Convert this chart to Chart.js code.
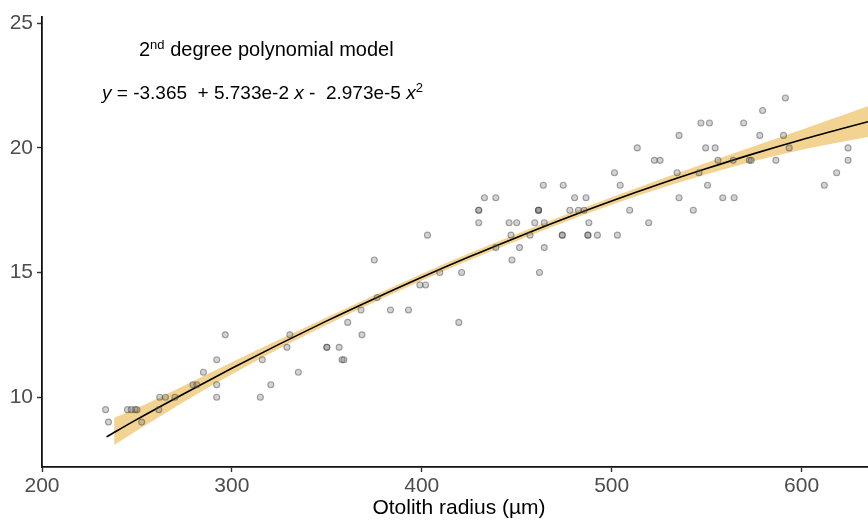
<!DOCTYPE html>
<html>
<head>
<meta charset="utf-8">
<script src="https://cdn.jsdelivr.net/npm/chart.js@4.4.0/dist/chart.umd.min.js"></script>
<style>
  body { margin: 0; background: #fff; }
  #wrap { width: 868px; height: 521px; }
</style>
</head>
<body>
<div id="wrap"><canvas id="chart" width="868" height="521"></canvas></div>
<script>
// observed points (otolith radius, length)
const obsX = [233.5, 235, 245, 247, 249, 250, 252.5, 261.5, 262, 265, 270, 279.5, 281.5, 285, 292, 292, 292, 296.5,
  315, 316, 320.5, 329, 330.5, 335, 350, 350, 356.5, 358, 359, 361, 368, 368.5, 375, 376.5, 383.5, 393,
  399, 402, 403, 409.5, 419.5, 421, 430, 430, 430, 433, 439, 439, 446, 447, 447.5, 450, 451.5, 457, 459.5,
  461.5, 461.5, 461.5, 462, 464, 464.5, 464.5, 474, 474, 474.5, 478, 480.5, 482.5, 485.5, 486.5, 487.5, 487.5,
  488, 492.5, 501.5, 503, 504.5, 509.5, 513.5, 519.5, 522.5, 525.5, 534.5, 535.5, 535.5, 543, 546, 547, 551.5,
  549.5, 550.5, 554.5, 556, 558.5, 564.5, 564, 569.5, 572.5, 573.5, 578, 579.5, 586.5, 590.5, 591.5, 593.5,
  612, 618.5, 624.5, 624.5];
const obsY = [9.5, 9.0, 9.5, 9.5, 9.5, 9.5, 9.0, 9.5, 10, 10, 10, 10.5, 10.5, 11, 11.5, 10.5, 10, 12.5,
  10, 11.5, 10.5, 12, 12.5, 11, 12, 12, 12, 11.5, 11.5, 13, 13.5, 12.5, 15.5, 14, 13.5, 13.5,
  14.5, 14.5, 16.5, 15, 13, 15, 17.5, 17.5, 17, 18, 18, 16, 17, 16.5, 15.5, 17, 16, 16.5, 17,
  17.5, 17.5, 17.5, 15, 18.5, 17, 16, 16.5, 16.5, 18.5, 17.5, 18, 17.5, 17.5, 18, 16.5, 16.5,
  17, 16.5, 19, 16.5, 18.5, 17.5, 20, 17, 19.5, 19.5, 19, 20.5, 18, 17.5, 19, 21, 21,
  20, 18.5, 20, 19.5, 18, 18, 19.5, 21, 19.5, 19.5, 20.5, 21.5, 19.5, 20.5, 22, 20,
  18.5, 19, 20, 19.5];

// fitted curve and confidence band
const fitX = [234, 250, 275, 300, 325, 350, 375, 400, 425, 450, 475, 500, 525, 550, 575, 600, 625, 640];
const fitY = [8.41, 9.11, 10.15, 11.16, 12.13, 13.06, 13.95, 14.81, 15.63, 16.41, 17.16, 17.87, 18.54, 19.17, 19.77, 20.33, 20.85, 21.15];
const bandX = [238, 250, 275, 300, 325, 350, 375, 400, 425, 450, 475, 500, 525, 550, 575, 600, 625, 640];
const bandLo = [8.08, 8.66, 9.83, 10.92, 11.95, 12.91, 13.81, 14.67, 15.49, 16.27, 17.02, 17.72, 18.36, 18.94, 19.47, 19.93, 20.30, 20.50];
const bandHi = [9.18, 9.56, 10.47, 11.40, 12.31, 13.21, 14.09, 14.95, 15.77, 16.55, 17.30, 18.02, 18.72, 19.40, 20.07, 20.73, 21.40, 21.80];

const xTicks = [200, 300, 400, 500, 600];
const yTicks = [10, 15, 20, 25];

function pts(xs, ys) {
  return xs.map((x, i) => ({ x: x, y: ys[i] }));
}

const textPlugin = {
  id: 'annot',
  afterDraw(chart) {
    const ctx = chart.ctx;
    const ff = '"Liberation Sans", Arial, sans-serif';
    ctx.save();
    ctx.fillStyle = '#000';
    ctx.textBaseline = 'alphabetic';
    ctx.textAlign = 'left';

    // title line with superscript
    let x = 139, base = 56;
    ctx.font = '20px ' + ff;
    ctx.fillText('2', x, base); x += ctx.measureText('2').width;
    ctx.font = '13px ' + ff;
    ctx.fillText('nd', x, base - 7); x += ctx.measureText('nd').width;
    ctx.font = '20px ' + ff;
    ctx.fillText(' degree polynomial model', x, base);

    // equation
    const parts = [
      ['italic 19px ', 'y', 0],
      ['19px ', ' = -3.365  + 5.733e-2 ', 0],
      ['italic 19px ', 'x', 0],
      ['19px ', ' -  2.973e-5 ', 0],
      ['italic 19px ', 'x', 0],
      ['13px ', '2', 7]
    ];
    x = 102; base = 99;
    parts.forEach(p => {
      ctx.font = p[0] + ff;
      ctx.fillText(p[1], x, base - p[2]);
      x += ctx.measureText(p[1]).width;
    });

    // x axis title
    ctx.font = '21px ' + ff;
    ctx.textAlign = 'center';
    ctx.fillText('Otolith radius (\u00b5m)', 459, 514);
    ctx.restore();
  }
};

new Chart(document.getElementById('chart'), {
  type: 'line',
  data: {
    datasets: [
      {
        label: 'observed',
        data: pts(obsX, obsY),
        showLine: false,
        pointRadius: 3,
        pointBorderWidth: 1.1,
        pointBackgroundColor: 'rgba(110,110,110,0.3)',
        pointBorderColor: 'rgba(60,60,60,0.45)'
      },
      {
        label: 'fit',
        data: pts(fitX, fitY),
        borderColor: '#000',
        borderWidth: 1.6,
        pointRadius: 0,
        cubicInterpolationMode: 'monotone',
        fill: false
      },
      {
        label: 'upper',
        data: pts(bandX, bandHi),
        borderWidth: 0,
        borderColor: 'rgba(0,0,0,0)',
        backgroundColor: '#F3D391',
        pointRadius: 0,
        cubicInterpolationMode: 'monotone',
        fill: '+1'
      },
      {
        label: 'lower',
        data: pts(bandX, bandLo),
        borderWidth: 0,
        borderColor: 'rgba(0,0,0,0)',
        pointRadius: 0,
        cubicInterpolationMode: 'monotone',
        fill: false
      }
    ]
  },
  options: {
    responsive: false,
    animation: false,
    layout: { autoPadding: false, padding: { top: 17, right: 0, left: 0, bottom: 0 } },
    plugins: {
      legend: { display: false },
      tooltip: { enabled: false }
    },
    scales: {
      x: {
        type: 'linear',
        min: 200,
        max: 635,
        afterBuildTicks: s => { s.ticks = xTicks.map(v => ({ value: v })); },
        afterFit: s => { s.height = 54; },
        grid: { drawOnChartArea: false, drawTicks: true, tickLength: 5, tickColor: '#333', tickWidth: 1.4 },
        border: { display: true, color: '#111', width: 1.8 },
        ticks: { color: '#4d4d4d', font: { size: 21, family: '"Liberation Sans", Arial, sans-serif' }, padding: 2, maxRotation: 0 }
      },
      y: {
        min: 7.2,
        max: 25.25,
        afterBuildTicks: s => { s.ticks = yTicks.map(v => ({ value: v })); },
        afterFit: s => { s.width = 42; },
        grid: { drawOnChartArea: false, drawTicks: true, tickLength: 5, tickColor: '#333', tickWidth: 1.4 },
        border: { display: true, color: '#111', width: 1.8 },
        ticks: { color: '#4d4d4d', font: { size: 21, family: '"Liberation Sans", Arial, sans-serif' }, padding: 4 }
      }
    }
  },
  plugins: [textPlugin]
});
</script>
</body>
</html>
